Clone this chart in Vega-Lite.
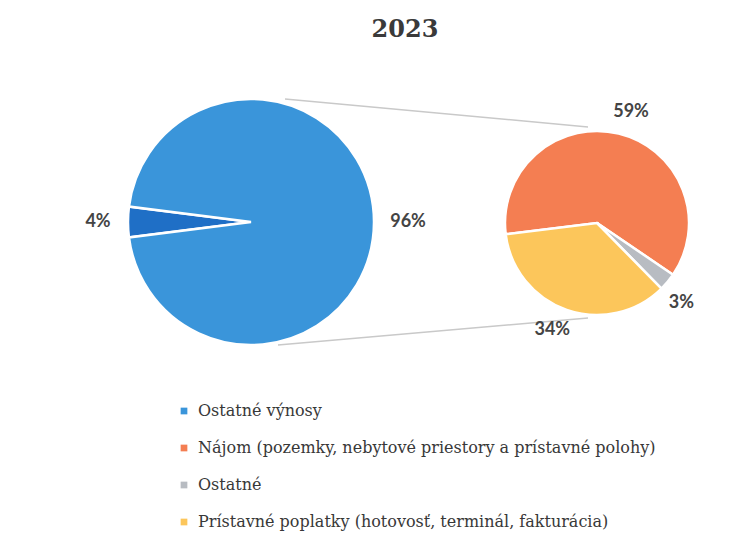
{
  "$schema": "https://vega.github.io/schema/vega-lite/v6.json",
  "width": 750,
  "height": 544,
  "autosize": {"type": "fit", "contains": "padding"},
  "padding": 0,
  "background": "white",
  "title": {"text": "2023", "font": "DejaVu Serif", "fontSize": 24, "fontWeight": "bold", "color": "#3a3a3a", "anchor": "middle", "dx": 30, "offset": -42},
  "data": {
    "values": [
      {"graf": "hlavný", "kategoria": "Spolu (sekundárny graf)", "podiel": 4, "popis": "4%", "poradie": 1},
      {"graf": "hlavný", "kategoria": "Ostatné výnosy", "podiel": 96, "popis": "96%", "poradie": 2},
      {"graf": "sekundárny", "kategoria": "Nájom (pozemky, nebytové priestory a prístavné polohy)", "podiel": 59, "popis": "59%", "poradie": 1},
      {"graf": "sekundárny", "kategoria": "Ostatné", "podiel": 3, "popis": "3%", "poradie": 2},
      {"graf": "sekundárny", "kategoria": "Prístavné poplatky (hotovosť, terminál, fakturácia)", "podiel": 34, "popis": "34%", "poradie": 3}
    ]
  },
  "layer": [
    {
      "data": {"values": [{"spojnica": "horná"}]},
      "mark": {"type": "rule", "color": "#c9c9c9", "strokeWidth": 1.5},
      "encoding": {"x": {"value": 285}, "y": {"value": 99}, "x2": {"value": 588}, "y2": {"value": 127}}
    },
    {
      "data": {"values": [{"spojnica": "dolná"}]},
      "mark": {"type": "rule", "color": "#c9c9c9", "strokeWidth": 1.5},
      "encoding": {"x": {"value": 278}, "y": {"value": 345}, "x2": {"value": 588}, "y2": {"value": 318}}
    },
    {
      "transform": [{"filter": "datum.graf === 'hlavný'"}],
      "mark": {"type": "arc", "x": 251, "y": 222, "radius": 123, "stroke": "white", "strokeWidth": 2.5},
      "encoding": {
        "theta": {"field": "podiel", "type": "quantitative", "stack": true, "scale": {"range": [4.5867, 10.8699], "nice": false, "zero": true}},
        "order": {"field": "poradie", "type": "quantitative"},
        "color": {
          "field": "kategoria", "type": "nominal",
          "scale": {
            "domain": ["Ostatné výnosy", "Nájom (pozemky, nebytové priestory a prístavné polohy)", "Ostatné", "Prístavné poplatky (hotovosť, terminál, fakturácia)", "Spolu (sekundárny graf)"],
            "range": ["#3a95da", "#f47e52", "#b8bcc2", "#fcc65b", "#1f6fc6"]
          },
          "legend": {
            "orient": "none", "legendX": 176, "legendY": 403, "title": null,
            "values": ["Ostatné výnosy", "Nájom (pozemky, nebytové priestory a prístavné polohy)", "Ostatné", "Prístavné poplatky (hotovosť, terminál, fakturácia)"],
            "symbolType": "square", "symbolSize": 45, "symbolStrokeWidth": 0,
            "labelFont": "DejaVu Serif", "labelFontSize": 16, "labelColor": "#383838",
            "rowPadding": 21, "labelLimit": 700, "labelOffset": 6
          }
        }
      }
    },
    {
      "transform": [{"filter": "datum.graf === 'hlavný'"}],
      "mark": {"type": "text", "x": 253, "y": 222, "radius": 155, "font": "Lato", "fontSize": 18, "fontWeight": "bold", "color": "#444444"},
      "encoding": {
        "theta": {"field": "podiel", "type": "quantitative", "stack": true, "scale": {"range": [4.5867, 10.8699], "nice": false, "zero": true}},
        "order": {"field": "poradie", "type": "quantitative"},
        "text": {"field": "popis", "type": "nominal"}
      }
    },
    {
      "transform": [{"filter": "datum.graf === 'sekundárny'"}],
      "mark": {"type": "arc", "x": 597, "y": 223, "radius": 92, "stroke": "white", "strokeWidth": 2.5},
      "encoding": {
        "theta": {"field": "podiel", "type": "quantitative", "stack": true, "scale": {"range": [4.5902, 10.8734], "nice": false, "zero": true}},
        "order": {"field": "poradie", "type": "quantitative"},
        "color": {"field": "kategoria", "type": "nominal"}
      }
    },
    {
      "transform": [{"filter": "datum.graf === 'sekundárny'"}],
      "mark": {"type": "text", "x": 597, "y": 223, "radius": 116, "font": "Lato", "fontSize": 18, "fontWeight": "bold", "color": "#444444"},
      "encoding": {
        "theta": {"field": "podiel", "type": "quantitative", "stack": true, "scale": {"range": [4.65, 10.9332], "nice": false, "zero": true}},
        "order": {"field": "poradie", "type": "quantitative"},
        "text": {"field": "popis", "type": "nominal"}
      }
    }
  ],
  "resolve": {"scale": {"theta": "independent"}},
  "config": {"view": {"stroke": null}}
}
